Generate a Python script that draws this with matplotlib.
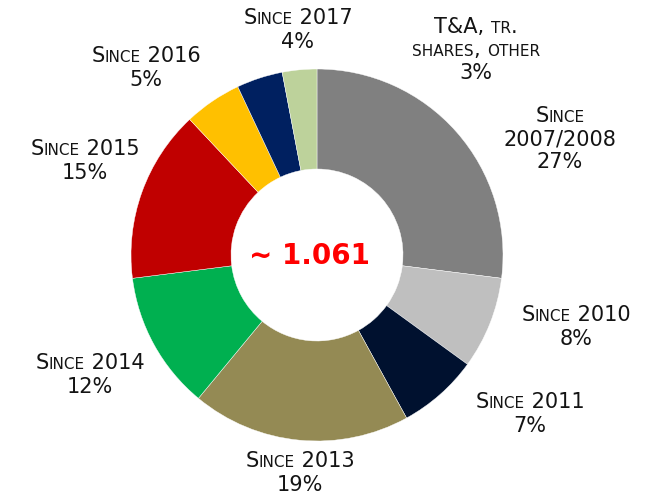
import matplotlib
matplotlib.use('Agg')
import matplotlib.pyplot as plt
from matplotlib.offsetbox import TextArea, HPacker, VPacker, AnnotationBbox

# share of the total by start year, clockwise from 12 o'clock
labels = ['Since\n2007/2008', 'Since 2010', 'Since 2011', 'Since 2013',
          'Since 2014', 'Since 2015', 'Since 2016', 'Since 2017',
          'T&A, tr.\nshares, other']
shares = [27, 8, 7, 19, 12, 15, 5, 4, 3]
colors = ['#808080', '#BFBFBF', '#00112F', '#948A54', '#00B050',
          '#C00000', '#FFC000', '#002060', '#BDD29B']
total_text = '~ 1.061'

# label centres, pixels from top-left
label_pos = [(560, 139), (576, 327), (530, 414), (300, 473), (90, 375),
             (85, 161), (146, 68), (298, 30), (476, 50)]

W, H = 657, 496
BIG, SMALL = 15, 11
INK = '#141414'
FONT = dict(family='DejaVu Sans', color=INK)


def smallcaps_line(s):
    # split into runs: lowercase -> small capitals, rest full size
    runs = []
    for ch in s:
        small = ch.islower()
        if runs and runs[-1][1] == small:
            runs[-1][0] += ch
        else:
            runs.append([ch, small])
    parts = [TextArea(t.upper(), textprops=dict(size=SMALL if sm else BIG,
                                                **FONT))
             for t, sm in runs]
    return HPacker(children=parts, align='baseline', pad=0, sep=0)


fig = plt.figure(figsize=(W / 100, H / 100), dpi=100)
ax = fig.add_axes([0, 0, 1, 1])

R = 186
ax.pie(shares, colors=colors, startangle=90, counterclock=False,
       center=(317, H - 255), radius=R, frame=True,
       wedgeprops=dict(width=100, edgecolor='white', linewidth=0.3))
ax.set_xlim(0, W)
ax.set_ylim(0, H)
ax.axis('off')

for lab, pct, (x, y) in zip(labels, shares, label_pos):
    lines = [smallcaps_line(l) for l in lab.split('\n')]
    lines.append(smallcaps_line(f'{pct}%'))
    box = VPacker(children=lines, align='center', pad=0, sep=2.5)
    ab = AnnotationBbox(box, (x, H - y), xycoords='data',
                        box_alignment=(0.5, 0.5), frameon=False, pad=0)
    ax.add_artist(ab)

ax.text(309, H - 256, total_text, color='#FF0000', fontsize=20,
        fontweight='bold', ha='center', va='center')

fig.savefig('out.png', dpi=100)
